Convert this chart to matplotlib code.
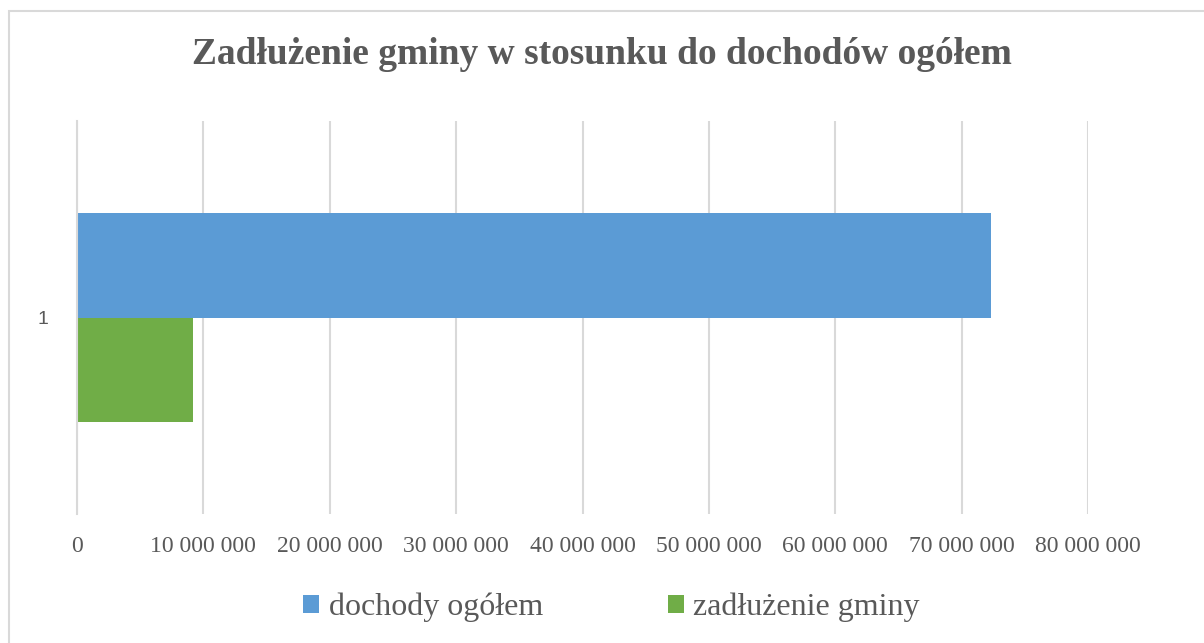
import numpy as np
import matplotlib.pyplot as plt
from matplotlib.patches import Rectangle
from matplotlib.ticker import FuncFormatter

# data
categories = ["1"]
series_names = ["dochody ogółem", "zadłużenie gminy"]
dochody = [72300000]
zadluzenie = [9200000]
colors = ["#5b9bd5", "#70ad47"]

fig = plt.figure(figsize=(12.04, 6.43), dpi=100)
ax = fig.add_axes([0.064, 0.2006, 0.8397, 0.6112])

# outer chart border
fig.patches.append(Rectangle((9 / 1204, -0.01), 1.02, 1 - 11 / 643 + 0.01,
                             transform=fig.transFigure, fill=False,
                             edgecolor="#d9d9d9", linewidth=1.5))

y = np.arange(len(categories)) + 1
h = 0.265
ax.barh(y + h / 2, dochody, height=h, color=colors[0], label=series_names[0])
ax.barh(y - h / 2, zadluzenie, height=h, color=colors[1], label=series_names[1])

ax.set_xlim(0, 80000000)
ax.set_ylim(0.5, 1.5)
ax.set_xticks(np.arange(0, 80000001, 10000000))
ax.xaxis.set_major_formatter(FuncFormatter(lambda v, p: f"{int(v):,}".replace(",", " ")))
ax.set_yticks(y)
ax.set_yticklabels(categories, fontfamily="Liberation Sans", fontsize=14, color="#595959")
for lbl in ax.get_xticklabels():
    lbl.set_fontfamily("Liberation Serif")
    lbl.set_fontsize(17)
    lbl.set_color("#595959")

ax.grid(axis="x", color="#d9d9d9", linewidth=1.5)
ax.set_axisbelow(True)
for s in ["top", "right", "bottom"]:
    ax.spines[s].set_visible(False)
ax.spines["left"].set_color("#d9d9d9")
ax.spines["left"].set_linewidth(1.5)
ax.tick_params(length=0)
ax.tick_params(axis="x", pad=16)
ax.tick_params(axis="y", pad=21)

fig.text(0.5, 0.916, "Zadłużenie gminy w stosunku do dochodów ogółem",
         ha="center", va="center", fontfamily="Liberation Serif",
         fontweight="bold", fontsize=27, color="#595959")

fig.legend(loc="center", bbox_to_anchor=(0.508, 0.055), ncol=2, frameon=False,
           prop={"family": "Liberation Serif", "size": 23}, labelcolor="#595959",
           handlelength=0.5, handleheight=0.5, handletextpad=0.3, columnspacing=3.9)

fig.savefig("out.png", dpi=100)
